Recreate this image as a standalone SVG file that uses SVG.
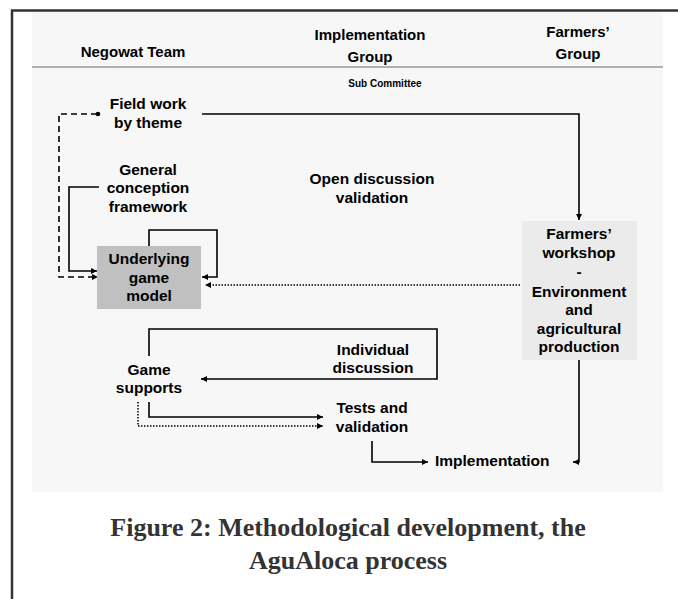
<svg xmlns="http://www.w3.org/2000/svg" width="678" height="599" viewBox="0 0 678 599">
<style>
.t{font-family:"Liberation Sans",Arial,sans-serif;font-weight:bold;font-size:15.5px;fill:#000;text-anchor:middle}
.h{font-size:15px}
.s{font-size:10px}
.cap{font-family:"Liberation Serif","Times New Roman",serif;font-weight:bold;font-size:26px;fill:#333;text-anchor:middle}
.ln{fill:none;stroke:#000;stroke-width:1.6}
.dash{stroke-dasharray:6,4}
.dot{stroke-dasharray:1.5,1.5;stroke-width:1.5}
</style>
<defs>
<marker id="ah" markerUnits="userSpaceOnUse" markerWidth="8" markerHeight="8" refX="6" refY="4" orient="auto">
<path d="M0,1 L6,4 L0,7 z" fill="#000"/>
</marker>
</defs>
<rect x="0" y="0" width="678" height="599" fill="#fff"/>
<rect x="32" y="12" width="631" height="480" fill="#f7f7f7"/>
<g id="frame">
<line x1="11" y1="10.5" x2="678" y2="10.5" stroke="#333" stroke-width="2.5"/>
<line x1="12" y1="10" x2="12" y2="599" stroke="#333" stroke-width="2.5"/>
<line x1="32" y1="67" x2="663" y2="67" stroke="#999" stroke-width="1.5"/>
</g>
<g id="headers">
<text class="t h" x="133" y="57">Negowat Team</text>
<text class="t h" x="370" y="40">Implementation</text>
<text class="t h" x="370" y="62">Group</text>
<text class="t h" x="578" y="37">Farmers’</text>
<text class="t h" x="578" y="59">Group</text>
<text class="t s" x="385" y="87">Sub Committee</text>
</g>
<g id="connectors">
<path class="ln dash" d="M97,114 H59 V277 H98" marker-end="url(#ah)"/>
<circle cx="98" cy="114" r="2.3" fill="#000"/>
<path class="ln" d="M202,114 H579 V220" marker-end="url(#ah)"/>
<path class="ln" d="M99,187 H69 V271 H97" marker-end="url(#ah)"/>
<path class="ln" d="M149,246 V230 H217 V277 H202" marker-end="url(#ah)"/>
<path class="ln dot" d="M520,285 H205" marker-end="url(#ah)"/>
<path class="ln" d="M149,356 V329 H437 V379 H201" marker-end="url(#ah)"/>
<path class="ln" d="M149,402 V417 H323" marker-end="url(#ah)"/>
<path class="ln dot" d="M138,402 V426 H323" marker-end="url(#ah)"/>
<path class="ln" d="M372,441 V462 H428" marker-end="url(#ah)"/>
<path class="ln" d="M579,360 V462 H573" marker-end="url(#ah)"/>
</g>
<g id="fieldwork">
<text class="t" x="148" y="109">Field work</text>
<text class="t" x="148" y="128">by theme</text>
</g>
<g id="general">
<text class="t" x="148" y="175">General</text>
<text class="t" x="148" y="193">conception</text>
<text class="t" x="148" y="212">framework</text>
</g>
<g id="underlying">
<rect x="97" y="246" width="104" height="63" fill="#c0c0c0"/>
<text class="t" x="149" y="264">Underlying</text>
<text class="t" x="149" y="283">game</text>
<text class="t" x="149" y="301">model</text>
</g>
<g id="opendiscussion">
<text class="t" x="372" y="184">Open discussion</text>
<text class="t" x="372" y="203">validation</text>
</g>
<g id="farmersworkshop">
<rect x="522" y="221" width="115" height="139" fill="#ebebeb"/>
<text class="t" x="579" y="239">Farmers’</text>
<text class="t" x="579" y="258">workshop</text>
<text class="t" x="579" y="277">-</text>
<text class="t" x="579" y="297">Environment</text>
<text class="t" x="579" y="315">and</text>
<text class="t" x="579" y="334">agricultural</text>
<text class="t" x="579" y="352">production</text>
</g>
<g id="individual">
<text class="t" x="373" y="355">Individual</text>
<text class="t" x="373" y="373">discussion</text>
</g>
<g id="gamesupports">
<text class="t" x="149" y="375">Game</text>
<text class="t" x="149" y="393">supports</text>
</g>
<g id="tests">
<text class="t" x="372" y="413">Tests and</text>
<text class="t" x="372" y="432">validation</text>
</g>
<g id="implementation">
<text class="t" x="435" y="466" style="text-anchor:start">Implementation</text>
</g>
<g id="caption">
<text class="cap" x="348" y="536">Figure 2: Methodological development, the</text>
<text class="cap" x="348" y="569">AguAloca process</text>
</g>
</svg>
